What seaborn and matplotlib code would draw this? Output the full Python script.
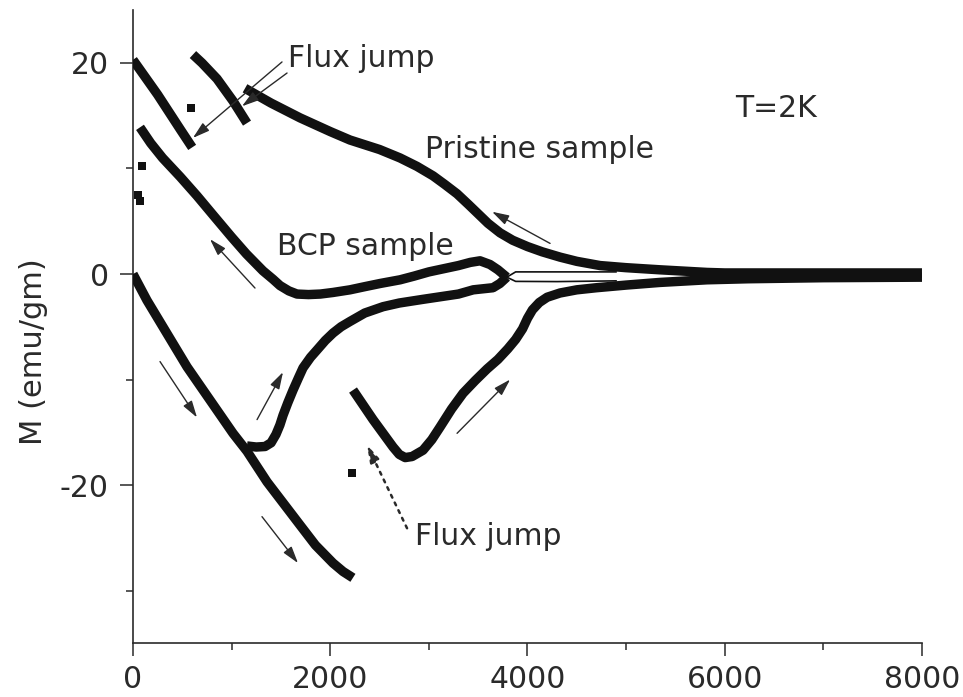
import matplotlib
matplotlib.use("Agg")
import matplotlib.pyplot as plt
import numpy as np
import pandas as pd
import seaborn as sns
from matplotlib.ticker import MultipleLocator

# Magnetization M (emu/gm) versus applied field (Oe) at T = 2 K
virgin_field = [0, 142, 548, 1014, 1156, 1359, 1694, 1850, 2028, 2130, 2230]
virgin_m = [0.0, -2.5, -8.8, -15.1, -16.8, -19.7, -23.8, -25.7, -27.4, -28.2, -28.8]

# pristine sample, increasing field after the flux jump
pristine_up_field = [2231, 2434, 2637, 2700, 2760, 2830, 2941, 3030, 3114, 3230,
                     3347, 3470, 3590, 3700, 3800, 3880, 3950, 4000, 4050, 4120,
                     4200, 4330, 4500, 4700, 5000, 5340, 5820, 6240, 7000, 8000]
pristine_up_m = [-11.0, -13.8, -16.4, -17.1, -17.4, -17.3, -16.7, -15.7, -14.5, -12.8,
                 -11.3, -10.1, -9.0, -8.1, -7.1, -6.2, -5.2, -4.2, -3.4, -2.7,
                 -2.2, -1.8, -1.5, -1.3, -1.05, -0.8, -0.55, -0.45, -0.35, -0.3]

# pristine sample, decreasing field
pristine_down_field = [8000, 7000, 6000, 5820, 5340, 5000, 4736, 4500, 4330, 4150,
                       4000, 3850, 3722, 3600, 3489, 3400, 3286, 3160, 3043, 2880,
                       2708, 2500, 2200, 2000, 1694, 1400, 1136]
pristine_down_m = [0.1, 0.1, 0.1, 0.15, 0.4, 0.6, 0.8, 1.2, 1.6, 2.1,
                   2.6, 3.2, 3.9, 4.8, 5.8, 6.6, 7.6, 8.5, 9.3, 10.2,
                   11.0, 11.8, 12.7, 13.5, 14.8, 16.2, 17.6]

# pristine sample, pieces between flux jumps at low field
jump_a_field = [0, 250, 480, 600]
jump_a_m = [20.3, 17.0, 13.7, 12.0]
jump_b_field = [608, 700, 852, 1014, 1156]
jump_b_m = [20.8, 20.0, 18.5, 16.4, 14.3]

# BCP sample, increasing field
bcp_up_field = [1156, 1250, 1339, 1400, 1450, 1490, 1521, 1570, 1623, 1680,
                1724, 1800, 1866, 1950, 2028, 2110, 2200, 2350, 2535, 2700,
                2941, 3300, 3450, 3550, 3650, 3720, 3790]
bcp_up_m = [-16.3, -16.4, -16.35, -16.0, -15.2, -14.3, -13.4, -12.2, -11.0, -9.8,
            -8.9, -7.9, -7.2, -6.3, -5.6, -5.0, -4.5, -3.7, -3.1, -2.75,
            -2.4, -1.9, -1.5, -1.4, -1.3, -0.9, -0.3]

# BCP sample, decreasing field
bcp_down_field = [3790, 3700, 3620, 3519, 3420, 3300, 3150, 3000, 2850, 2708,
                  2505, 2350, 2200, 2028, 1900, 1780, 1663, 1580, 1491, 1420,
                  1318, 1150, 1000, 820, 650, 480, 300, 180, 71]
bcp_down_m = [-0.3, 0.4, 0.9, 1.25, 1.1, 0.8, 0.5, 0.2, -0.2, -0.55,
              -0.9, -1.2, -1.5, -1.75, -1.9, -1.95, -1.9, -1.6, -1.1, -0.5,
              0.3, 1.9, 3.5, 5.5, 7.4, 9.2, 11.0, 12.4, 13.9]

# BCP high-field tails (sparse points, thin trace)
bcp_tail_up_field = [3790, 3880, 4300, 4900]
bcp_tail_up_m = [-0.3, -0.7, -0.72, -0.65]
bcp_tail_down_field = [3790, 3880, 4300, 4900]
bcp_tail_down_m = [-0.3, 0.2, 0.2, 0.2]

# isolated points recorded during flux jumps
jump_pts_field = [588, 91, 50, 70, 2221]
jump_pts_m = [15.7, 10.2, 7.5, 6.9, -18.9]

branches = [
    ("virgin", virgin_field, virgin_m),
    ("pristine_up", pristine_up_field, pristine_up_m),
    ("pristine_down", pristine_down_field, pristine_down_m),
    ("jump_a", jump_a_field, jump_a_m),
    ("jump_b", jump_b_field, jump_b_m),
    ("bcp_up", bcp_up_field, bcp_up_m),
    ("bcp_down", bcp_down_field, bcp_down_m),
]
thin_branches = [
    ("bcp_tail_up", bcp_tail_up_field, bcp_tail_up_m),
    ("bcp_tail_down", bcp_tail_down_field, bcp_tail_down_m),
]


def to_frame(items):
    rows = []
    for name, xs, ys in items:
        for order, (xv, yv) in enumerate(zip(xs, ys)):
            rows.append({"branch": name, "order": order, "H": xv, "M": yv})
    return pd.DataFrame(rows)


df_thick = to_frame(branches)
df_thin = to_frame(thin_branches)
df_pts = pd.DataFrame({"H": jump_pts_field, "M": jump_pts_m})

sns.set_style("ticks")
plt.rcParams["font.family"] = ["DejaVu Sans"]
plt.rcParams["axes.unicode_minus"] = False

ink = "#111111"
grey = "#2a2a2a"

fig = plt.figure(figsize=(9.63, 6.97), dpi=100)
ax = fig.add_axes([0.1381, 0.0771, 0.8193, 0.9082])

sns.lineplot(data=df_thin, x="H", y="M", units="branch", estimator=None,
             sort=False, color=ink, lw=1.2, ax=ax, zorder=2)
sns.lineplot(data=df_thick, x="H", y="M", units="branch", estimator=None,
             sort=False, color=ink, lw=6.8, ax=ax, zorder=3,
             solid_capstyle="butt", solid_joinstyle="round")
sns.scatterplot(data=df_pts, x="H", y="M", marker="s", s=36, color=ink,
                edgecolor=ink, linewidth=0, ax=ax, zorder=3)

ax.set_xlim(0, 8000)
ax.set_ylim(-35, 25)
ax.xaxis.set_major_locator(MultipleLocator(2000))
ax.xaxis.set_minor_locator(MultipleLocator(1000))
ax.yaxis.set_major_locator(MultipleLocator(20))
ax.yaxis.set_minor_locator(MultipleLocator(10))
ax.tick_params(which="major", direction="out", length=9.5, width=1.1,
               color=grey, labelsize=21.5, labelcolor=grey, pad=6)
ax.tick_params(which="minor", direction="out", length=5, width=1.1, color=grey)
ax.tick_params(axis="y", which="major", pad=8)
for side in ("top", "right"):
    ax.spines[side].set_visible(False)
for side in ("left", "bottom"):
    ax.spines[side].set_color(grey)
    ax.spines[side].set_linewidth(1.2)

ax.set_xlabel("")
ax.set_ylabel("M (emu/gm)", fontsize=22, color=grey)
ax.yaxis.set_label_coords(-0.108, 0.461)

# text labels
txt = dict(fontsize=21.5, color=grey, va="baseline", ha="left")
ax.text(1572, 19.6, "Flux jump", **txt)
ax.text(2961, 11.0, "Pristine sample", **txt)
ax.text(1460, 1.8, "BCP sample", **txt)
ax.text(6105, 14.9, "T=2K", **txt)
ax.text(2860, -25.7, "Flux jump", **txt)

# sweep-direction and flux-jump arrows
arrow = dict(arrowstyle="-|>,head_length=0.6,head_width=0.18",
             color=grey, lw=1.0, mutation_scale=17, shrinkA=0, shrinkB=0)
arrows = [
    ((1237, -1.33), (781, 3.3)),
    ((4229, 2.9), (3641, 5.9)),
    ((274, -8.3), (649, -13.6)),
    ((1258, -13.8), (1521, -9.3)),
    ((1308, -23.0), (1673, -27.4)),
    ((3286, -15.1), (3824, -10.0)),
    ((1511, 20.1), (608, 12.9)),
    ((1562, 19.05), (1105, 15.9)),
]
for tail, head in arrows:
    ax.annotate("", xy=head, xytext=tail, arrowprops=arrow, zorder=4)

dotted = dict(arrow)
dotted.update(lw=1.8, linestyle=(0, (1.2, 2.2)))
ax.annotate("", xy=(2373, -16.2), xytext=(2779, -24.1), arrowprops=dotted, zorder=4)

fig.savefig("out.png", dpi=100, facecolor="white")
